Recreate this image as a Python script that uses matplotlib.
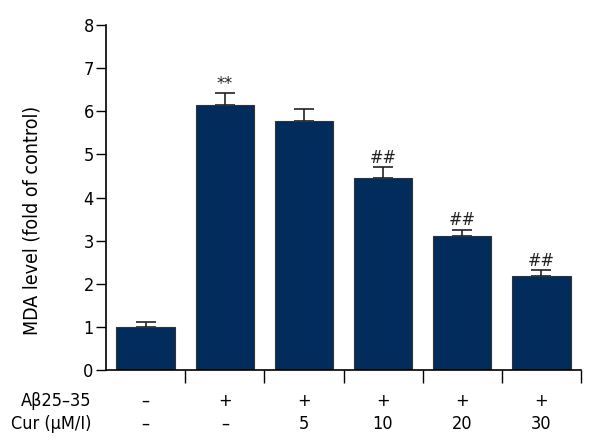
import numpy as np
import matplotlib
matplotlib.use('Agg')
import matplotlib.pyplot as plt

plt.rcParams['font.family'] = ['DejaVu Sans']
plt.rcParams['font.stretch'] = 'condensed'

# data
abeta = ['\u2013', '+', '+', '+', '+', '+']
cur = ['\u2013', '\u2013', '5', '10', '20', '30']
mda = [1.00, 6.14, 5.77, 4.46, 3.10, 2.18]
err = [0.11, 0.28, 0.28, 0.24, 0.15, 0.14]
marks = ['', '**', '', '##', '##', '##']

bar_color = '#022c5c'
fs = 13

fig = plt.figure(figsize=(6, 4.4), dpi=100)
ax = fig.add_axes([0.177, 0.159, 0.791, 0.784])

x = np.arange(len(mda))
ax.bar(x, mda, width=0.74, color=bar_color, edgecolor='#333333', linewidth=0.8, zorder=2)
ax.errorbar(x, mda, yerr=[np.zeros(len(err)), err], fmt='none', ecolor='#222222',
            elinewidth=1.2, capsize=7, capthick=1.2, zorder=1)

for xi, m, e, s in zip(x, mda, err, marks):
    if s:
        ax.text(xi, m + e + 0.01, s, ha='center', va='bottom', fontsize=fs, color='#222222')

ax.set_xlim(-0.5, 5.5)
ax.set_ylim(0, 8)
ax.set_yticks(np.arange(0, 9, 1))
ax.set_xticks(np.arange(0.5, 6, 1))
ax.set_xticklabels([])
ax.tick_params(axis='y', direction='out', length=7, width=1, labelsize=fs, pad=2)
ax.tick_params(axis='x', direction='out', length=9, width=1)
for s in ['top', 'right']:
    ax.spines[s].set_visible(False)
for s in ['left', 'bottom']:
    ax.spines[s].set_linewidth(1.2)

ax.set_ylabel('MDA level (fold of control)', fontsize=fs + 1)
ax.yaxis.set_label_coords(-0.137, 0.435)

# treatment table under the axis
trans = ax.get_xaxis_transform()
for xi, a, c in zip(x, abeta, cur):
    ax.text(xi, -0.09, a, transform=trans, ha='center', va='center', fontsize=fs)
    ax.text(xi, -0.155, c, transform=trans, ha='center', va='center', fontsize=fs)
fig.text(0.152, 1 - 401 / 440, 'A\u03b225\u201335', ha='right', va='center', fontsize=fs)
fig.text(0.152, 1 - 424 / 440, 'Cur (\u03bcM/I)', ha='right', va='center', fontsize=fs)

fig.savefig('out.png', dpi=100)
